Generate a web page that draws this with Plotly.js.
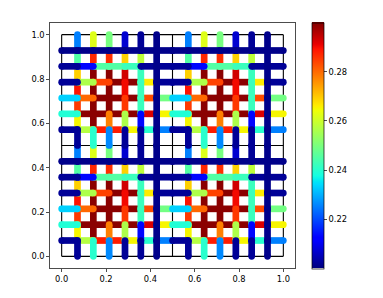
<!DOCTYPE html>
<html><head><meta charset="utf-8">
<script src="https://cdn.plot.ly/plotly-3.0.1.min.js"></script>
<style>html,body{margin:0;padding:0;background:#fff;} #chart{width:383px;height:298px;}</style>
</head><body><div id="chart"></div>
<script>
// One 0.5 x 0.5 tile (repeated 2 x 2). Horizontal rows at y = j/14 (j = 1..6), segments k..k+1 (k = 0..6)
const hRow1 = [0.202, 0.257, 0.288, 0.288, 0.265, 0.240, 0.225];
const hRow2 = [0.239, 0.299, 0.299, 0.299, 0.299, 0.292, 0.265];
const hRow3 = [0.233, 0.280, 0.299, 0.299, 0.299, 0.283, 0.249];
const hRow4 = [0.202, 0.256, 0.284, 0.299, 0.299, 0.266, 0.202];
const hRow5 = [0.202, 0.213, 0.245, 0.245, 0.242, 0.202, 0.202];
const hRow6 = [0.201, 0.201, 0.201, 0.201, 0.201, 0.201, 0.201];
// Vertical columns at x = i/14 (i = 1..6), segments m..m+1 from bottom (m = 0..6)
const vCol1 = [0.202, 0.265, 0.285, 0.289, 0.269, 0.245, 0.225];
const vCol2 = [0.240, 0.299, 0.299, 0.299, 0.299, 0.287, 0.262];
const vCol3 = [0.226, 0.2775, 0.299, 0.299, 0.299, 0.286, 0.2495];
const vCol4 = [0.202, 0.256, 0.285, 0.290, 0.293, 0.269, 0.207];
const vCol5 = [0.202, 0.213, 0.242, 0.242, 0.242, 0.258, 0.202];
const vCol6 = [0.201, 0.201, 0.201, 0.201, 0.201, 0.201, 0.201];
const tileIndex = [0, 1];
const cellsPerTile = 7;
const cMin = 0.2, cMax = 0.3;
const colorbarTicks = [0.22, 0.24, 0.26, 0.28];
const axisTicks = [0.0, 0.2, 0.4, 0.6, 0.8, 1.0];
const frameLines = [0, 0.5, 1];

const hRows = [hRow1, hRow2, hRow3, hRow4, hRow5, hRow6];
const vCols = [vCol1, vCol2, vCol3, vCol4, vCol5, vCol6];

// matplotlib "jet"
function lerpSeg(t, pts){
  for (let i=0;i<pts.length-1;i++){
    const [t0,v0]=pts[i],[t1,v1]=pts[i+1];
    if (t<=t1) return v0+(v1-v0)*(t-t0)/(t1-t0);
  }
  return pts[pts.length-1][1];
}
const R=[[0,0],[0.35,0],[0.66,1],[0.89,1],[1,0.5]];
const G=[[0,0],[0.125,0],[0.375,1],[0.64,1],[0.91,0],[1,0]];
const B=[[0,0.5],[0.11,1],[0.34,1],[0.65,0],[1,0]];
function jet(t){
  t=Math.max(0,Math.min(1,t));
  return 'rgb('+Math.round(255*lerpSeg(t,R))+','+Math.round(255*lerpSeg(t,G))+','+Math.round(255*lerpSeg(t,B))+')';
}
const stops=[0,0.11,0.125,0.34,0.35,0.375,0.64,0.65,0.66,0.89,0.91,1];
const jetScale=stops.map(s=>[s,jet(s)]);
function colorOf(v){ return jet((v-cMin)/(cMax-cMin)); }

const N = cellsPerTile*2;
const segs=[];
tileIndex.forEach(tx=>{
  tileIndex.forEach(ty=>{
    hRows.forEach((row,jj)=>{
      const y=(ty*cellsPerTile+jj+1)/N;
      row.forEach((v,k)=>{
        const x0=(tx*cellsPerTile+k)/N;
        segs.push({x:[x0,x0+1/N],y:[y,y],v:v});
      });
    });
    vCols.forEach((col,ii)=>{
      const x=(tx*cellsPerTile+ii+1)/N;
      col.forEach((v,m)=>{
        const y0=(ty*cellsPerTile+m)/N;
        segs.push({x:[x,x],y:[y0,y0+1/N],v:v});
      });
    });
  });
});
segs.sort((a,b)=>b.v-a.v);

const LW=6.7;
const traces=[];
// colorbar carrier
traces.push({type:'scatter',mode:'markers',x:[0.5,0.5],y:[0.5,0.5],hoverinfo:'skip',showlegend:false,
  marker:{color:[cMin,cMax],cmin:cMin,cmax:cMax,colorscale:jetScale,opacity:0,size:1,showscale:true,
    colorbar:{x:1.068,xanchor:'left',y:0.5,yanchor:'middle',len:1.003,lenmode:'fraction',thickness:12,
      xpad:0,ypad:0,outlinewidth:0.7,outlinecolor:'#000',ticks:'outside',ticklen:3,tickwidth:0.7,tickcolor:'#000',
      tickvals:colorbarTicks,ticktext:colorbarTicks.map(v=>v.toFixed(2)),
      tickfont:{family:'DejaVu Sans',size:8.3,color:'#000'}}}});
// black frame grid
frameLines.forEach(p=>{
  traces.push({type:'scatter',mode:'lines',x:[p,p],y:[0,1],line:{color:'#000',width:1.1},hoverinfo:'skip',showlegend:false});
  traces.push({type:'scatter',mode:'lines',x:[0,1],y:[p,p],line:{color:'#000',width:1.1},hoverinfo:'skip',showlegend:false});
});
segs.forEach(s=>{
  const c=colorOf(s.v);
  traces.push({type:'scatter',mode:'lines+markers',x:s.x,y:s.y,hoverinfo:'skip',showlegend:false,
    line:{color:c,width:LW},marker:{color:c,size:LW,line:{width:0}}});
});

const axisCommon={range:[-0.0526,1.0526],showgrid:false,zeroline:false,showline:true,mirror:true,
  linecolor:'#000',linewidth:0.7,ticks:'outside',ticklen:3,tickwidth:0.7,tickcolor:'#000',
  tickvals:axisTicks,ticktext:axisTicks.map(v=>v.toFixed(1)),
  tickfont:{family:'DejaVu Sans',size:8.3,color:'#000'}};
const layout={width:383,height:298,margin:{l:50,r:88,t:22.7,b:30.3},paper_bgcolor:'#fff',plot_bgcolor:'#fff',
  showlegend:false,xaxis:Object.assign({},axisCommon),yaxis:Object.assign({},axisCommon)};
Plotly.newPlot('chart',traces,layout,{staticPlot:true,displayModeBar:false});
</script></body></html>
